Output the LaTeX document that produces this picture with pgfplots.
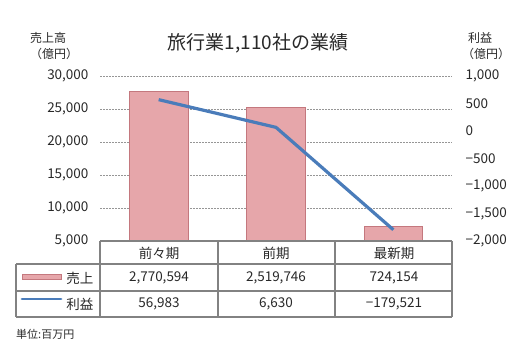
\documentclass[border=0pt]{standalone}
\usepackage{pgfplots}
\pgfplotsset{compat=1.18}
\usepackage{fontspec}
\setmainfont{Noto Sans CJK JP}
\definecolor{barpink}{RGB}{230,166,170}
\definecolor{bardark}{RGB}{196,120,126}
\definecolor{lineblue}{RGB}{74,124,186}
\definecolor{gridgray}{RGB}{150,150,150}
\definecolor{tabgray}{RGB}{130,130,130}
\definecolor{txt}{RGB}{40,40,40}
\begin{document}
\begin{tikzpicture}[every node/.style={text=txt}]
\useasboundingbox (0,0) rectangle (527pt,-353pt);
\begin{axis}[
  at={(100pt,-241pt)}, anchor=south west,
  scale only axis, width=352pt, height=165pt,
  xmin=-0.5, xmax=2.5,
  ymin=5000, ymax=30000,
  scaled y ticks=false,
  ytick={5000,10000,15000,20000,25000,30000},
  yticklabels={{5,000},{10,000},{15,000},{20,000},{25,000},{30,000}},
  xtick=\empty,
  axis line style={draw=none},
  major tick style={draw=none},
  yticklabel style={font=\fontsize{13.5}{13.5}\selectfont, xshift=-8pt},
  clip=false,
]
\pgfplotsinvokeforeach{10000,15000,20000,25000,30000}{
  \draw[gridgray, dash pattern=on 1.5pt off 1.5pt, line width=0.8pt]
    (axis cs:-0.5,#1) -- (axis cs:2.5,#1);
}
\addplot[ybar, bar width=0.5, fill=barpink, draw=bardark, line width=0.6pt]
  coordinates {(0,27706) (1,25197) (2,7242)};
\end{axis}
\begin{axis}[
  at={(100pt,-241pt)}, anchor=south west,
  scale only axis, width=352pt, height=165pt,
  xmin=-0.5, xmax=2.5,
  ymin=-2000, ymax=1000,
  scaled y ticks=false,
  axis y line*=right, axis x line=none,
  ytick={-2000,-1500,-1000,-500,0,500,1000},
  yticklabels={{−2,000},{−1,500},{−1,000},{−500},{0},{500},{1,000}},
  yticklabel style={font=\fontsize{13.5}{13.5}\selectfont, anchor=west, xshift=10pt},
  y axis line style={draw=none},
  major tick length=0pt,
  xtick=\empty,
  clip=false,
]
\addplot[lineblue, line width=3.2pt, mark=none]
  coordinates {(0,570) (1,66) (2,-1795)};
\end{axis}
% titles
\node at (258pt,-43pt) {\fontsize{19}{19}\selectfont 旅行業1,110社の業績};
\node[align=left, anchor=north west, inner sep=0pt, font=\fontsize{12}{16}\selectfont] at (30pt,-32pt) {売上高\\（億円）};
\node[align=left, anchor=north west, inner sep=0pt, font=\fontsize{12}{16}\selectfont] at (462pt,-32pt) {\hspace*{6pt}利益\\（億円）};
% table frame
\begin{scope}[tabgray, line width=1.1pt]
\draw (100pt,-241pt) -- (452pt,-241pt);
\draw (16pt,-264pt) -- (452pt,-264pt);
\draw (16pt,-291pt) -- (452pt,-291pt);
\draw (16pt,-317pt) -- (452pt,-317pt);
\draw (16pt,-264pt) -- (16pt,-317pt);
\draw (100pt,-241pt) -- (100pt,-317pt);
\draw (218pt,-241pt) -- (218pt,-317pt);
\draw (335pt,-241pt) -- (335pt,-317pt);
\draw (452pt,-241pt) -- (452pt,-317pt);
\end{scope}
\begin{scope}[every node/.style={text=txt, font=\fontsize{13.5}{13.5}\selectfont}]
\node at (159pt,-253pt) {前々期};
\node at (276pt,-253pt) {前期};
\node at (394pt,-253pt) {最新期};
\node at (159pt,-278pt) {2,770,594};
\node at (276pt,-278pt) {2,519,746};
\node at (394pt,-278pt) {724,154};
\node at (159pt,-304pt) {56,983};
\node at (276pt,-304pt) {6,630};
\node at (394pt,-304pt) {−179,521};
\node[anchor=east] at (97pt,-278pt) {売上};
\node[anchor=east] at (97pt,-304pt) {利益};
\end{scope}
\fill[barpink, draw=bardark, line width=0.5pt] (22pt,-274pt) rectangle (61pt,-279pt);
\draw[lineblue, line width=2.8pt, line cap=round] (22pt,-299pt) -- (61pt,-299pt);
\node[anchor=west, inner sep=0pt] at (16pt,-334pt) {\fontsize{11}{11}\selectfont 単位:百万円};
\end{tikzpicture}
\end{document}
